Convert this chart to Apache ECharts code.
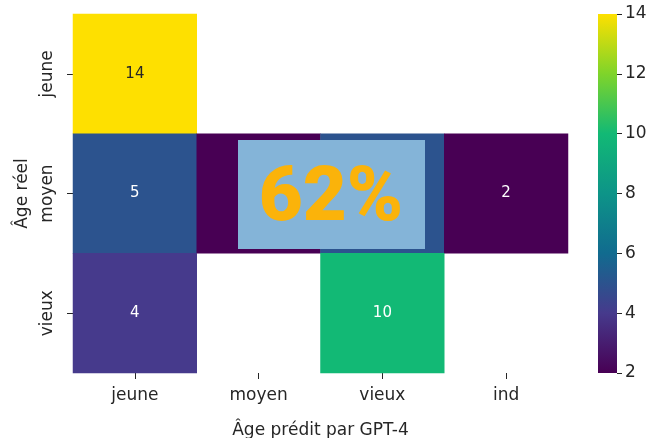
<!DOCTYPE html>
<html>
<head>
<meta charset="utf-8">
<script src="https://cdn.jsdelivr.net/npm/echarts@6/dist/echarts.min.js"></script>
<style>
  html, body { margin: 0; padding: 0; background: #fff; }
  #main { width: 663px; height: 438px; }
</style>
</head>
<body>
<div id="main"></div>
<script>
var predicted = ['jeune', 'moyen', 'vieux', 'ind'];
var actual = ['jeune', 'moyen', 'vieux'];
// rows = actual age, cols = predicted age (null = empty cell)
var counts = [
  [14, null, null, null],
  [5, 2, 5, 2],
  [4, null, 10, null]
];
var scaleMin = 2;
var scaleMax = 14;
var scaleColors = ['#480054', '#463a8c', '#116b8f', '#0d9488', '#12b975', '#7fd42a', '#fee000'];
var accuracyText = '62%';

var font = 'DejaVu Sans';
var ink = '#262626';

var cells = [];
counts.forEach(function (row, r) {
  row.forEach(function (v, c) {
    if (v === null) return;
    cells.push({
      value: [c, r, v],
      label: { color: v > 10 ? ink : '#ffffff' }
    });
  });
});

var gradStops = scaleColors.map(function (col, i) {
  return { offset: i / (scaleColors.length - 1), color: col };
});

var myChart = echarts.init(document.getElementById('main'));

var option = {
  backgroundColor: '#ffffff',
  textStyle: { fontFamily: font },
  animation: false,
  grid: [
    { left: 73, right: 95, top: 14, bottom: 65, outerBoundsMode: 'none' },
    { left: 598, width: 19, top: 14, bottom: 65, outerBoundsMode: 'none' }
  ],
  xAxis: [
    {
      type: 'category',
      gridIndex: 0,
      data: predicted,
      name: 'Âge prédit par GPT-4',
      nameLocation: 'middle',
      nameGap: 49,
      nameTextStyle: { fontSize: 17, color: ink, fontFamily: font },
      axisLine: { show: false },
      axisTick: { show: true, alignWithLabel: true, length: 6, lineStyle: { color: ink } },
      axisLabel: { fontSize: 17, color: ink, margin: 14, fontFamily: font },
      splitLine: { show: false }
    },
    {
      type: 'category',
      gridIndex: 1,
      data: [''],
      axisLine: { show: false },
      axisTick: { show: false },
      axisLabel: { show: false }
    }
  ],
  yAxis: [
    {
      type: 'category',
      gridIndex: 0,
      data: actual,
      inverse: true,
      name: 'Âge réel',
      nameLocation: 'middle',
      nameGap: 26,
      nameRotate: 90,
      nameTextStyle: { fontSize: 17, color: ink, fontFamily: font },
      axisLine: { show: false },
      axisTick: { show: true, alignWithLabel: true, length: 6, lineStyle: { color: ink } },
      axisLabel: { fontSize: 17, color: ink, rotate: 90, margin: 17, fontFamily: font },
      splitLine: { show: false }
    },
    {
      type: 'value',
      gridIndex: 1,
      position: 'right',
      min: scaleMin,
      max: scaleMax,
      interval: 2,
      axisLine: { show: false },
      axisTick: { show: true, length: 5, lineStyle: { color: ink } },
      axisLabel: { fontSize: 17, color: ink, margin: 8, fontFamily: font },
      splitLine: { show: false }
    }
  ],
  visualMap: {
    show: false,
    type: 'continuous',
    min: scaleMin,
    max: scaleMax,
    seriesIndex: 0,
    dimension: 2,
    inRange: { color: scaleColors }
  },
  series: [
    {
      type: 'heatmap',
      xAxisIndex: 0,
      yAxisIndex: 0,
      data: cells,
      label: { show: true, fontSize: 15, fontFamily: font },
      itemStyle: { borderWidth: 0 },
      emphasis: { disabled: true }
    },
    {
      type: 'bar',
      xAxisIndex: 1,
      yAxisIndex: 1,
      data: [scaleMax],
      barWidth: '100%',
      silent: true,
      itemStyle: {
        color: new echarts.graphic.LinearGradient(0, 1, 0, 0, gradStops)
      }
    }
  ],
  graphic: [
    {
      type: 'group',
      left: 238,
      top: 140,
      z: 100,
      children: [
        {
          type: 'rect',
          z: 100,
          shape: { x: 0, y: 0, width: 187, height: 109 },
          style: { fill: '#84b4d8' }
        },
        {
          type: 'text',
          z: 101,
          x: 93,
          y: 61,
          style: {
            text: accuracyText,
            fill: '#fbb30a',
            fontFamily: 'Roboto',
            fontWeight: 900,
            fontSize: 76,
            align: 'center',
            verticalAlign: 'middle'
          }
        }
      ]
    }
  ]
};

myChart.setOption(option);
</script>
</body>
</html>
